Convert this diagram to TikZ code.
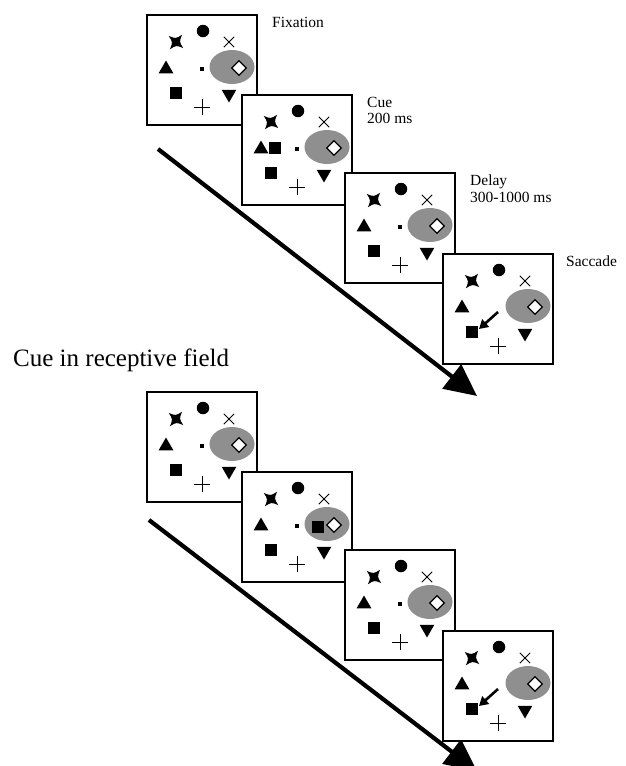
\documentclass[tikz,border=0pt]{standalone}
\usepackage{fontspec}
\setmainfont{Liberation Serif}
\usetikzlibrary{shapes.geometric,shapes.misc,arrows.meta}
\definecolor{rfgray}{gray}{0.56}
\newcommand{\labfont}{\fontsize{15.5}{16.5}\selectfont}
\newcommand{\bigfont}{\fontsize{25}{30}\selectfont}

% stimuli of one screen, #1 = prefix of the node names
\newcommand{\stimuli}[1]{%
        \node[screen] (#1) at (0,0) {};
        \node[rf] (#1rf) at (85,52) {};
        \node[blob, circle, minimum size=12.5pt] (#1circ) at (56,16) {};
        \pic (#1star) at (29,27) {sparkle};
        \node[xmark] (#1x) at (82,27) {};
        \node[tri] (#1tri) at (19,54) {};
        \node[target] (#1diam) at (92,53) {};
        \node[sq] (#1sq) at (29,78) {};
        \node[pmark] (#1plus) at (55,92) {};
        \node[tri, rotate=180] (#1itri) at (82,79) {};
}
\newcommand{\fixpoint}[1]{\node[blob, minimum size=4.5pt] (#1fp) at (55,54) {};}
\newcommand{\saccade}[1]{%
        \coordinate (#1from) at (55,58);
        \coordinate (#1to) at (36,75);
        \draw[sacc] (#1from) -- (#1to);
}

\begin{document}
\begin{tikzpicture}[x=1pt, y=-1pt,
        screen/.style={draw, fill=white, line width=2.8pt, anchor=north west,
                minimum size=110pt, inner sep=0pt, outer sep=0pt},
        blob/.style={fill=black, inner sep=0pt, outer sep=0pt},
        rf/.style={ellipse, fill=rfgray, minimum width=45pt, minimum height=34pt, inner sep=0pt},
        sparkle/.pic={\fill[rotate=50] (0,9.5) .. controls (2.3,2.3) .. (9.5,0)
                .. controls (2.3,-2.3) .. (0,-9.5) .. controls (-2.3,-2.3) .. (-9.5,0)
                .. controls (-2.3,2.3) .. cycle;},
        tri/.style={blob, regular polygon, regular polygon sides=3, minimum size=17pt},
        sq/.style={blob, minimum size=12pt},
        target/.style={diamond, draw, fill=white, line width=1.3pt, minimum size=15pt, inner sep=0pt},
        xmark/.style={cross out, draw, line width=0.9pt, minimum size=9.5pt, inner sep=0pt},
        pmark/.style={xmark, minimum size=10.5pt, rotate=45},
        sacc/.style={line width=2.6pt, -{Triangle[length=9pt, width=10pt]}},
        timeline/.style={line width=4.2pt, -{Triangle[length=32pt, width=30pt]}},
        lab/.style={anchor=north west, inner sep=0pt, align=left, font=\labfont}]

        \useasboundingbox (0,0) rectangle (625,766);

        % time arrows
        \coordinate (tA0) at (158,149);
        \coordinate (tA1) at (477,396);
        \draw[timeline] (tA0) -- (tA1);
        \coordinate (tB0) at (149,520);
        \coordinate (tB1) at (477,771);
        \draw[timeline] (tB0) -- (tB1);

        % cue outside receptive field
        \begin{scope}[shift={(147,15)}]
                \stimuli{a1}
                \fixpoint{a1}
        \end{scope}
        \begin{scope}[shift={(242,95)}]
                \stimuli{a2}
                \fixpoint{a2}
                \node[sq] (a2cue) at (33,53) {};
        \end{scope}
        \begin{scope}[shift={(345,173)}]
                \stimuli{a3}
                \fixpoint{a3}
        \end{scope}
        \begin{scope}[shift={(443,254)}]
                \stimuli{a4}
                \saccade{a4}
        \end{scope}

        \node[lab] (fix) at ([xshift=15pt, yshift=-2pt]a1.north east) {Fixation};
        \node[lab] (cue) at ([xshift=15pt, yshift=-2pt]a2.north east) {Cue\\200 ms};
        \node[lab] (delay) at ([xshift=15pt, yshift=-2pt]a3.north east) {Delay\\300-1000 ms};
        \node[lab] (sacc) at ([xshift=13pt, yshift=-2pt]a4.north east) {Saccade};

        \node[anchor=base west, inner sep=0pt, font=\bigfont] (rflab) at (13,366) {Cue in receptive field};

        % cue in receptive field
        \begin{scope}[shift={(147,392)}]
                \stimuli{b1}
                \fixpoint{b1}
        \end{scope}
        \begin{scope}[shift={(242,472)}]
                \stimuli{b2}
                \fixpoint{b2}
                \node[sq] (b2cue) at (76,55) {};
        \end{scope}
        \begin{scope}[shift={(345,550)}]
                \stimuli{b3}
                \fixpoint{b3}
        \end{scope}
        \begin{scope}[shift={(443,631)}]
                \stimuli{b4}
                \saccade{b4}
        \end{scope}
\end{tikzpicture}
\end{document}
